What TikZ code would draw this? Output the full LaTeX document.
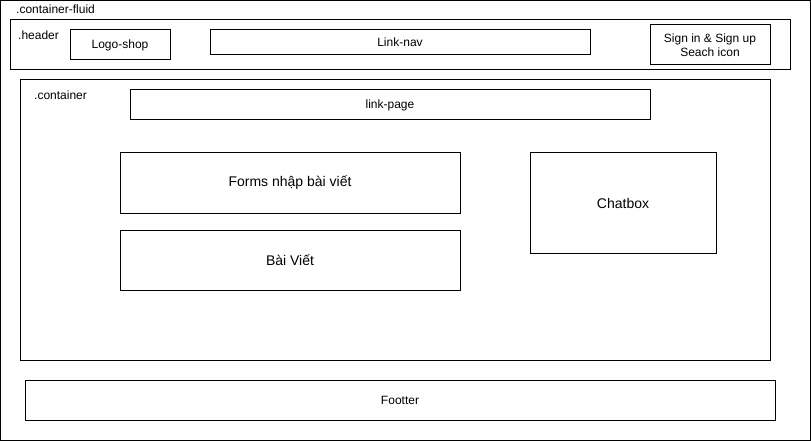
\documentclass[tikz,border=0pt]{standalone}
\usepackage{fontspec}
\setmainfont{Liberation Sans}

\begin{document}
\begin{tikzpicture}[x=1pt,y=-1pt]
      \useasboundingbox (0,0) rectangle (811,441);
      \begin{scope}[every node/.style={rectangle,draw,line width=1pt,inner sep=0pt,font=\fontsize{12}{14}\selectfont,align=center}]
        \node[minimum width=809.5pt,minimum height=439.5pt] (fluid) at (405.25,220.25) {};
        \node[minimum width=780pt,minimum height=50pt] (header) at (400,45) {};
        \node[minimum width=100pt,minimum height=30pt] (logo) at (120,45) {Logo-shop};
        \node[minimum width=380pt,minimum height=25pt] (linknav) at (400,42.5) {Link-nav};
        \node[minimum width=120pt,minimum height=40pt] (sign) at (710,45) {Sign in \& Sign up\\Seach icon};
        \node[minimum width=750pt,minimum height=280pt] (container) at (395,220) {};
        \node[minimum width=520pt,minimum height=30pt] (linkpage) at (390,105) {link-page};
        \node[minimum width=340pt,minimum height=60pt,font=\fontsize{14}{16}\selectfont] (forms) at (290,183) {Forms nhập bài viết};
        \node[minimum width=340pt,minimum height=60pt,font=\fontsize{14}{16}\selectfont] (baiviet) at (290,260) {Bài Viết};
        \node[minimum width=186pt,minimum height=100pt,font=\fontsize{14}{16}\selectfont] (chatbox) at (623,203) {Chatbox};
        \node[minimum width=750pt,minimum height=40pt] (footer) at (400,400) {Footter};
      \end{scope}
      \begin{scope}[every node/.style={anchor=west,inner sep=0pt,font=\fontsize{12}{14}\selectfont}]
        \node (fluidlabel) at (16,9) {.container-fluid};
        \node (headerlabel) at (18,35) {.header};
        \node (containerlabel) at (34,95) {.container};
      \end{scope}
    \end{tikzpicture}
\end{document}
